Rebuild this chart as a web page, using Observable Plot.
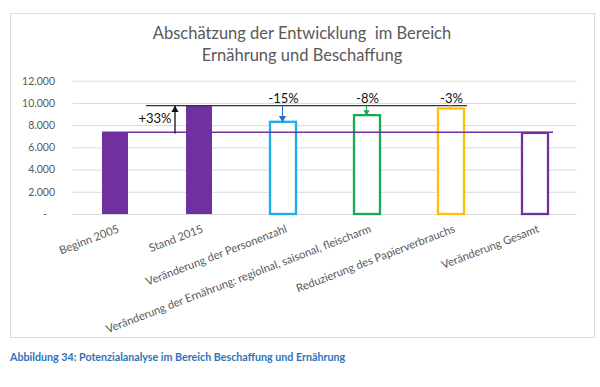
<!DOCTYPE html>
<html>
<head>
<meta charset="utf-8">
<script src="https://cdn.jsdelivr.net/npm/d3@7"></script>
<script src="https://cdn.jsdelivr.net/npm/@observablehq/plot@0.6"></script>
<style>
  html, body { margin: 0; padding: 0; background: #fff; }
  #page { position: relative; width: 600px; height: 387px; overflow: hidden; font-family: Lato, sans-serif; }
  #frame { position: absolute; left: 10px; top: 13px; width: 585px; height: 325px; box-sizing: border-box; border: 1.5px solid #dcdcdc; }
  #title { position: absolute; left: 0; width: 604px; top: 22px; text-align: center; font-size: 16.5px; line-height: 22px; color: #595959; white-space: pre; }
  #chart { position: absolute; left: 0; top: 70px; }
  #caption { position: absolute; left: 10px; top: 350px; font-size: 10.7px; font-weight: bold; color: #2E74B5; }
</style>
</head>
<body>
<div id="page">
  <div id="frame"></div>
  <div id="title">Abschätzung der Entwicklung  im Bereich
Ernährung und Beschaffung</div>
  <div id="chart"></div>
  <div id="caption">Abbildung 34: Potenzialanalyse im Bereich Beschaffung und Ernährung</div>
</div>
<script>
const categories = [
  "Beginn 2005",
  "Stand 2015",
  "Veränderung der Personenzahl",
  "Veränderung der Ernährung: regiolnal, saisonal, fleischarm",
  "Reduzierung des Papierverbrauchs",
  "Veränderung Gesamt"
];
const values = [7300, 9800, 8300, 8900, 9500, 7300];
const filledBars = [true, true, false, false, false, false];
const barColors = ["#7030A0", "#7030A0", "#1AAEEA", "#1AA850", "#FFC000", "#7030A0"];
const yTicks = [0, 2000, 4000, 6000, 8000, 10000, 12000];
const baseLevel = 7400;   // Niveau 2005 (lila Linie)
const standLevel = 9800;  // Niveau 2015 (schwarze Linie)
const changeCats = ["Stand 2015", "Veränderung der Personenzahl", "Veränderung der Ernährung: regiolnal, saisonal, fleischarm", "Reduzierung des Papierverbrauchs"];
const changeLabels = ["+33%", "-15%", "-8%", "-3%"];
const changeFrom = [7300, 9800, 9800, 9800];
const changeTo = [9800, 8300, 8900, 9500];
const changeColors = ["#111111", "#1F6FC5", "#1AA850", "#FFC000"];
const headSizes = [2.7, 2.7, 2.3, 1.4];

const bars = categories.map((c, i) => ({cat: c, value: values[i], filled: filledBars[i], color: barColors[i]}));
const changes = changeCats.map((c, i) => ({cat: c, label: changeLabels[i], from: changeFrom[i], to: changeTo[i], color: changeColors[i], r: headSizes[i], up: changeTo[i] > changeFrom[i]}));

const fmt = d => d === 0 ? "-\u00a0\u00a0\u00a0" : d3.format(",")(d).replace(/,/g, ".");

const marks = [
  Plot.gridY(yTicks, {stroke: "#d9d9d9", strokeOpacity: 1, strokeWidth: 1}),
  Plot.axisY(yTicks, {tickSize: 0, tickPadding: 18, tickFormat: fmt, fontSize: 10.5, fill: "#595959", label: null}),
  Plot.barY(bars.filter(d => d.filled), {x: "cat", y: "value", fill: "color"}),
  Plot.barY(bars.filter(d => !d.filled), {x: "cat", y: "value", fill: "white", stroke: "color", strokeWidth: 2.3}),
  Plot.ruleY([baseLevel], {x1: () => categories[0], x2: () => categories[5], insetRight: -5, stroke: "#7030A0", strokeWidth: 1.6}),
  Plot.ruleY([standLevel], {x1: () => categories[0], x2: () => categories[4], insetLeft: 44, insetRight: -3, stroke: "#333333", strokeWidth: 1.4}),
];

changes.forEach((d, i) => {
  const dx = i === 0 ? -24.5 : -1;
  marks.push(Plot.link([d], {x1: "cat", x2: "cat", y1: "from", y2: "to", stroke: "color", strokeWidth: i === 0 ? 1.3 : 1.1, dx}));
  const h = Math.sqrt((d.r * d.r * Math.PI) / (3 * Math.sqrt(3)));
  marks.push(Plot.dot([d], {x: "cat", y: "to", symbol: "triangle", r: d.r, fill: "color", stroke: "none", rotate: d.up ? 0 : 180, dx, dy: d.up ? 2 * h : -2 * h}));
  if (i === 0) {
    marks.push(Plot.text([d], {x: "cat", y: (baseLevel + standLevel) / 2, text: "label", dx: -44.5, dy: 0, fontSize: 13, fill: "#111"}));
  } else {
    marks.push(Plot.text([d], {x: "cat", y: standLevel, text: "label", dx: 0, dy: -7, fontSize: 13, fill: "#111"}));
  }
});

marks.push(Plot.text(categories, {x: d => d, y: () => 0, text: d => d, rotate: -21, textAnchor: "end", dx: 3, dy: 14, fontSize: 11.2, fill: "#595959"}));

const chart = Plot.plot({
  width: 600,
  height: 270,
  marginTop: 10.7,
  marginBottom: 126,
  marginLeft: 72.5,
  marginRight: 23.5,
  style: {background: "transparent", fontFamily: "Lato, sans-serif", overflow: "visible"},
  x: {domain: categories, paddingInner: 0.695, paddingOuter: 0.3475, axis: null},
  y: {domain: [0, 12000], axis: null},
  marks
});
document.getElementById("chart").appendChild(chart);
</script>
</body>
</html>
